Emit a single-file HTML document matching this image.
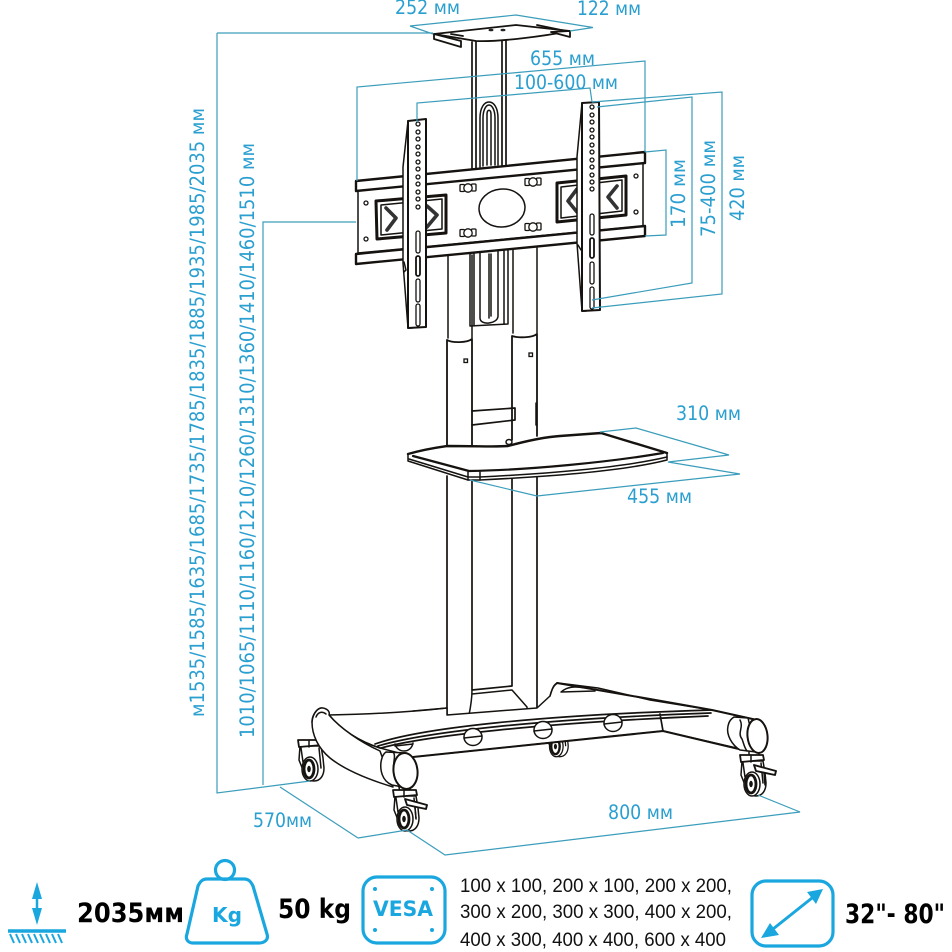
<!DOCTYPE html>
<html><head><meta charset="utf-8"><style>
html,body{margin:0;padding:0;background:#fff;width:952px;height:952px;overflow:hidden}
svg{display:block}
.d{fill:none;stroke:#3b9dbb;stroke-width:1.2}
.l{fill:none;stroke:#15120f;stroke-width:1.5;stroke-linejoin:round;stroke-linecap:round}
.w{fill:#fff;stroke:#15120f;stroke-width:1.5;stroke-linejoin:round}
.h{fill:#fff;stroke:#15120f;stroke-width:1.3}
.c{fill:none;stroke:#1aa7df;stroke-width:3.2;stroke-linejoin:round;stroke-linecap:round}
text{font-family:"DejaVu Sans","Liberation Sans",sans-serif}
.t{font-size:19.5px;fill:#2a9fd0}
.b{font-weight:bold;fill:#000}
.k{font-family:"Liberation Sans",sans-serif;font-size:19.5px;fill:#111}
</style></head><body>
<svg width="952" height="952" viewBox="0 0 952 952" xmlns="http://www.w3.org/2000/svg">
<defs>
<g id="wheel">
<path class="w" d="M-12,-20 L9,-20 L11,-8 L12,2 C12,10 8,15 2,15 C-4,15 -8,10 -9,4 L-13,-6 Z"/>
<path class="w" style="stroke-width:1.8" d="M-14,-26 L9,-26 L10,-21 L-13,-19 Z"/>
<path class="l" d="M-3,-19 L-3,-26"/>
<ellipse class="w" cx="-2" cy="3" rx="8" ry="12"/>
<ellipse class="l" cx="-3" cy="3" rx="5" ry="9" style="stroke-width:2.8"/>
<ellipse cx="-3" cy="3" rx="1.8" ry="3.2" fill="#15120f"/>
<path class="l" d="M-11,-18 L-9,-4 M7,-18 L9,2"/>
</g>
<g id="brake">
<path class="w" style="stroke-width:1.9" d="M-2,-17 L20,-11 L19,-7 L0,-11 Z"/>
<path class="l" d="M8,-9 L9,3"/>
</g>
<g id="slot"><rect class="h" x="-8" y="-3.5" width="4.5" height="7" rx="1"/><rect class="h" x="3.5" y="-4" width="4.5" height="7" rx="1"/><circle class="h" cx="0" cy="0" r="4.2"/></g>
</defs>

<!-- Top plate & column -->
<path class="l" style="stroke-width:1.7" d="M472,42 L472,170 M476,41 L476,170 M502,40 L502,168 M506,40 L506,168"/>
<path class="l" d="M480,167 L480,118 C480,108 484,102 489,102 C494,102 498,108 498,118 L498,165 M483,166 L483,118 C483,110 486,105 489,105 C492,105 495,110 495,118 L495,165 M487,165 L487,114 C487,109 491,109 491,114 L491,165"/>
<path class="w" style="stroke-width:1.8" d="M434,34 L516,25 L570,31 C545,36 500,42 476,41 Z"/>
<path class="w" style="stroke-width:1.8" d="M434,34 L434,39 L461,47 L461,41 Z"/>
<path class="w" style="stroke-width:1.8" d="M551,32 L570,31 L570,37 Z"/>
<path class="l" style="stroke-width:1.8" d="M451,34 L463,36 M537,25 L566,31"/>
<ellipse cx="491" cy="30" rx="2.5" ry="1.3" fill="#222"/><ellipse cx="503" cy="30" rx="2.5" ry="1.3" fill="#222"/>

<!-- Poles upper -->
<path class="l" d="M448,255 L448,338 M472,255 L472,338 M513,248 L513,333 M537,248 L537,333"/>
<path class="l" d="M470,253 L470,326 L508,324 L508,250 M474,253 L474,326 M504,251 L504,324"/>
<path class="l" d="M480,253 L480,318 C480,326 498,324 498,316 L498,250 M489,254 L489,318 M491,254 L491,316"/>

<!-- Poles lower -->
<path class="l" style="stroke-width:1.8" d="M447,340 C452,343 467,343 472,339 M447,340 L447,450 M472,339 L472,445"/>
<path class="l" style="stroke-width:1.8" d="M512,336 C518,338 532,338 537,334 M512,336 L512,440 M537,334 L537,436"/>
<rect class="h" x="464" y="359" width="3.5" height="3.5"/><rect class="h" x="529" y="353" width="3.5" height="3.5"/>
<path class="l" style="stroke-width:1.7" d="M472,411 L515,408 L515,420 L472,425"/>
<path class="l" d="M536,403 L536,425"/>
<ellipse class="l" cx="509" cy="442" rx="3" ry="2.5"/>
<path class="l" style="stroke-width:1.7" d="M447,476 L447,715 C460,718 530,712 537,708 L537,476 M472,480 L472,690 L512,686 L512,476"/>
<path class="l" d="M472,690 C472,700 470,710 469,715 M472,694 L512,690 L527,707 L527,711"/>

<!-- Mount plate -->
<path class="w" d="M358,190 L643,163 L643,226 L358,253 Z"/>
<path class="w" style="stroke-width:2.4" d="M356,181 L645,152 L645,163 L356,191 Z"/>
<path class="w" style="stroke-width:2.4" d="M356,254 L645,226 L645,236 L356,264 Z"/>
<path class="w" style="stroke-width:3" d="M376,201 L446,195 L446,233 L377,239 Z"/>
<path class="l" d="M381,205 L442,199 L442,229 L381,235 Z"/>
<path class="w" style="stroke-width:3" d="M557,183 L626,176 L626,215 L557,222 Z"/>
<path class="l" d="M561,187 L622,180 L622,211 L561,218 Z"/>
<path class="l" style="stroke-width:3.6;stroke:#333" d="M386,208 L396,218 L387,230 M427,206 L437,215 L427,227 M577,189 L568,201 L577,212 M617,186 L608,197 L617,208"/>
<ellipse class="l" cx="502" cy="208" rx="23" ry="19" transform="rotate(-5 502 208)"/>
<use href="#slot" x="468" y="188"/><use href="#slot" x="533" y="182"/><use href="#slot" x="468" y="233"/><use href="#slot" x="533" y="227"/>
<circle class="h" cx="366" cy="203" r="2"/><circle class="h" cx="366" cy="239" r="2"/><circle class="h" cx="636" cy="176" r="2"/><circle class="h" cx="636" cy="212" r="2"/>

<!-- VESA bars -->
<path class="w" d="M408,121 L403,167 L403,263 L408,328 L412,328 L412,121 Z"/>
<path class="w" d="M582,103 L577,157 L577,243 L582,311 L586,311 L586,103 Z"/>
<path class="w" style="stroke-width:2" d="M408,121 L426,119 L426,327 L408,328 Z"/>
<path class="w" style="stroke-width:2" d="M582,103 L599,102 L600,310 L582,311 Z"/>
<path class="l" d="M404,262 L406,270 L404,272"/>
<path class="l" d="M578,245 L581,250"/>
<g>
<circle class="h" cx="418" cy="124" r="2"/><circle class="h" cx="418" cy="132" r="2"/><circle class="h" cx="418" cy="139" r="2"/><circle class="h" cx="418" cy="147" r="2"/><circle class="h" cx="418" cy="154" r="2"/><circle class="h" cx="418" cy="162" r="2"/><circle class="h" cx="418" cy="169" r="2"/><circle class="h" cx="418" cy="177" r="2"/><circle class="h" cx="418" cy="184" r="2"/><circle class="h" cx="418" cy="192" r="2"/><circle class="h" cx="418" cy="199" r="2"/><circle class="h" cx="418" cy="207" r="2"/>
<circle class="h" cx="592" cy="107" r="2"/><circle class="h" cx="592" cy="115" r="2"/><circle class="h" cx="592" cy="122" r="2"/><circle class="h" cx="592" cy="130" r="2"/><circle class="h" cx="592" cy="137" r="2"/><circle class="h" cx="592" cy="145" r="2"/><circle class="h" cx="592" cy="152" r="2"/><circle class="h" cx="592" cy="160" r="2"/><circle class="h" cx="592" cy="167" r="2"/><circle class="h" cx="592" cy="175" r="2"/><circle class="h" cx="592" cy="182" r="2"/><circle class="h" cx="592" cy="189" r="2"/>
</g>
<rect class="h" x="416" y="231" width="4" height="22" rx="2"/><rect class="h" x="416" y="256" width="4" height="20" rx="2" style="stroke-width:1.8"/><rect class="h" x="416" y="279" width="4" height="23" rx="2"/><rect class="h" x="416" y="304" width="4" height="22" rx="2"/>
<rect class="h" x="590" y="214" width="4" height="21" rx="2"/><rect class="h" x="590" y="238" width="4" height="20" rx="2" style="stroke-width:1.8"/><rect class="h" x="590" y="262" width="4" height="22" rx="2"/><rect class="h" x="590" y="287" width="4" height="22" rx="2"/>

<!-- Shelf -->
<path class="w" d="M408,454 C425,449 440,447 447,446 C480,446 495,447 508,446 C530,440 545,437 560,436 L601,433 L667,453 L667,460 C620,472 540,477 480,480 L468,480 L408,461 Z"/>
<path class="l" style="stroke-width:2.4" d="M408,454 C425,449 440,447 447,446 C480,446 495,447 508,446 C530,440 545,437 560,436 L601,433 L667,453"/>
<path class="l" style="stroke-width:2.2" d="M413,456 L469,471 C530,470 610,462 663,453"/>
<path class="l" d="M409,459 L468,477 L480,477 C540,474 620,468 667,457 M468,472 L468,480 M480,472 L480,480"/>

<!-- Base -->
<use href="#wheel" transform="translate(558,744) scale(.85)"/>
<path class="w" d="M550,696 C552,688 555,684 558,683 L598,688 L650,700 L712,710 L757,720 L745,750 L663,731 L413,757 L395,752 L380,748 C355,740 340,728 329,715 C380,714 420,711 447,708 L447,715 L537,708 L550,696 Z"/>
<path class="l" d="M447,708 L413,711 M329,715 C340,728 355,740 380,748"/>
<path class="l" style="stroke-width:1.7" d="M375,744 C420,728 540,715 712,710 M378,746 C425,732 540,719 711,713 M381,748 C425,736 540,723 708,716 M660,714 L663,731"/>
<path class="l" d="M557,683 C553,685 552,690 550,696 M561,692 C570,684 580,688 590,688 M561,692 L595,691"/>
<path class="l" style="stroke-width:2" d="M413,757 L663,731 L743,750 M557,683 L650,699 L712,710 L757,720"/>
<ellipse class="w" cx="473" cy="737" rx="9" ry="8.5"/><path class="l" d="M464,738 L482,736"/>
<ellipse class="w" cx="543" cy="730" rx="9" ry="8.5"/><path class="l" d="M534,731 L552,729"/>
<ellipse class="w" cx="613" cy="723" rx="9" ry="8.5"/><path class="l" d="M604,724 L622,722"/>
<path class="l" d="M395,744 C397,753 411,754 413,743 M395,746 L413,744"/>
<!-- left arm -->
<use href="#wheel" transform="translate(312,766)"/>
<path class="w" d="M329,715 C340,728 360,742 380,751 L393,787 C370,780 345,770 330,758 C318,748 312,735 312,722 C313,712 319,707 323,708 C328,709 330,712 329,715 Z"/>
<path class="l" d="M316,717 C318,712 322,711 326,714 M312,722 C312,716 316,709 321,708"/>
<path class="w" d="M386,752 L406,753 L408,788 L392,785 C382,781 380,770 381,762 C382,757 383,754 386,752 Z"/>
<path class="l" d="M393,752 C397,756 391,766 395,772 C397,778 396,782 400,787"/>
<ellipse class="w" cx="405.5" cy="771" rx="12" ry="18" transform="rotate(-6 405.5 771)" style="stroke-width:2"/>
<path class="l" d="M399,787 L400,793 L411,793 L410,788"/>
<use href="#wheel" transform="translate(407,816)"/>
<use href="#brake" x="407" y="816"/>
<!-- right arm end -->
<path class="w" d="M734,717 L748,718 L756,752 L740,750 C732,745 726,735 728,726 C729,721 731,719 734,717 Z"/>
<path class="l" d="M740,720 C744,727 737,733 742,739 C744,744 744,747 747,751"/>
<ellipse class="w" cx="757.5" cy="736" rx="10" ry="17" transform="rotate(-6 757.5 736)" style="stroke-width:2"/>
<path class="l" d="M749,752 L749,757 L759,757 L759,754"/>
<use href="#wheel" transform="translate(754,781)"/>
<use href="#brake" x="756" y="782"/>

<!-- Dimension lines -->
<path class="d" d="M433,34 L410,26 L516,15 L593,27.5 L570,31 M217,33 L433,33 M217,33 L217,793 L310,781 M358,838 L280,787 M358,838 L407,830 L445,855 L800,812 L758,795"/>
<path class="d" d="M263,785 L263,222 L356,222"/>
<path class="d" d="M357,181 L357,87 L645,61 L645,152 M417,122 L417,103 L590,88 L592,102"/>
<path class="d" d="M592,102 L722,92 L722,294 L592,308 M597,107 L692,97 L692,283 L592,300"/>
<path class="d" d="M645,152 L666,150 L666,235 L645,236"/>
<path class="d" d="M600,432 L636,428 L729,455 L668,462 L740,474 L537,496 L470,480"/>

<!-- Dimension labels -->
<text class="t" x="395" y="14" textLength="65" lengthAdjust="spacingAndGlyphs">252 мм</text>
<text class="t" x="577" y="15" textLength="64" lengthAdjust="spacingAndGlyphs">122 мм</text>
<text class="t" x="530" y="65" textLength="65" lengthAdjust="spacingAndGlyphs">655 мм</text>
<text class="t" x="514" y="89" textLength="104" lengthAdjust="spacingAndGlyphs">100-600 мм</text>
<text class="t" x="676" y="420" textLength="65" lengthAdjust="spacingAndGlyphs">310 мм</text>
<text class="t" x="627" y="503" textLength="65" lengthAdjust="spacingAndGlyphs">455 мм</text>
<text class="t" x="608" y="819" textLength="65" lengthAdjust="spacingAndGlyphs">800 мм</text>
<text class="t" x="253" y="827" textLength="59" lengthAdjust="spacingAndGlyphs">570мм</text>
<text class="t" transform="translate(204,717) rotate(-90)" textLength="609" lengthAdjust="spacingAndGlyphs">м1535/1585/1635/1685/1735/1785/1835/1885/1935/1985/2035 мм</text>
<text class="t" transform="translate(254,738) rotate(-90)" textLength="595" lengthAdjust="spacingAndGlyphs">1010/1065/1110/1160/1210/1260/1310/1360/1410/1460/1510 мм</text>
<text class="t" transform="translate(685,228) rotate(-90)" textLength="69" lengthAdjust="spacingAndGlyphs">170 мм</text>
<text class="t" transform="translate(715,237) rotate(-90)" textLength="97" lengthAdjust="spacingAndGlyphs">75-400 мм</text>
<text class="t" transform="translate(744,221) rotate(-90)" textLength="66" lengthAdjust="spacingAndGlyphs">420 мм</text>

<!-- Bottom icons -->
<path d="M8,931 L66,931" stroke="#1aa7df" stroke-width="3.5" fill="none"/>
<path d="M10,934 L14,943 M16,934 L20,943 M22,934 L26,943 M28,934 L32,943 M34,934 L38,943 M40,934 L44,943 M46,934 L50,943 M52,934 L56,943 M58,934 L62,943" stroke="#1aa7df" stroke-width="2" fill="none"/>
<path d="M37,890 L37,920" stroke="#1aa7df" stroke-width="2.5"/>
<path d="M37,882 L42,899 L32,899 Z M37,925 L42,908 L32,908 Z" fill="#1aa7df"/>
<text class="b" x="77" y="922" font-size="27" textLength="107" lengthAdjust="spacingAndGlyphs">2035мм</text>
<circle cx="225" cy="870" r="9.5" fill="none" stroke="#1aa7df" stroke-width="3.2"/>
<path class="c" d="M207,879 L244,879 C249,879 251,882 253,886 L267,934 C269,940 264,943 259,943 L193,943 C188,943 185,939 187,934 L198,886 C200,882 202,879 207,879 Z"/>
<text x="227" y="922" text-anchor="middle" font-size="20" font-weight="bold" fill="#1aa7df" textLength="30" lengthAdjust="spacingAndGlyphs">Kg</text>
<text class="b" x="278" y="918" font-size="27" textLength="73" lengthAdjust="spacingAndGlyphs">50 kg</text>
<rect class="c" x="363" y="877" width="82" height="66" rx="14"/>
<circle cx="375" cy="889" r="2" fill="#1aa7df"/><circle cx="432" cy="889" r="2" fill="#1aa7df"/><circle cx="375" cy="930" r="2" fill="#1aa7df"/><circle cx="432" cy="930" r="2" fill="#1aa7df"/>
<text x="373" y="916" font-size="21" font-weight="bold" fill="#1aa7df" textLength="60" lengthAdjust="spacingAndGlyphs">VESA</text>
<text class="k" x="460" y="892" textLength="272" lengthAdjust="spacingAndGlyphs">100 x 100, 200 x 100, 200 x 200,</text>
<text class="k" x="460" y="918" textLength="272" lengthAdjust="spacingAndGlyphs">300 x 200, 300 x 300, 400 x 200,</text>
<text class="k" x="460" y="946" textLength="266" lengthAdjust="spacingAndGlyphs">400 x 300, 400 x 400, 600 x 400</text>
<rect class="c" x="752" y="881" width="81" height="65" rx="14"/>
<path d="M768,933 L817,894" stroke="#1aa7df" stroke-width="3"/>
<path d="M823,889 L816,904 L807,892 Z M761,938 L779,935 L770,923 Z" fill="#1aa7df"/>
<text class="b" x="845" y="923" font-size="27" textLength="100" lengthAdjust="spacingAndGlyphs">32"- 80"</text>
</svg>
</body></html>
